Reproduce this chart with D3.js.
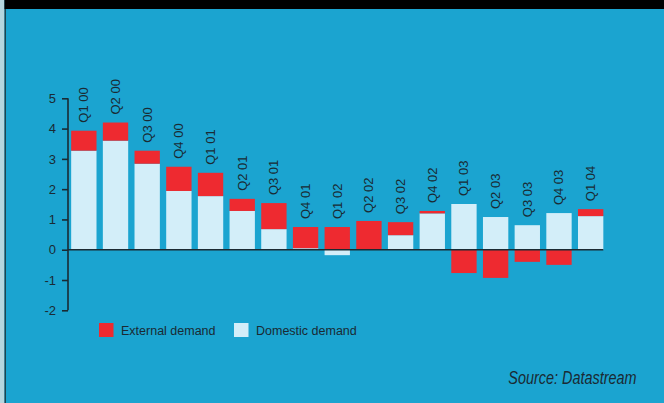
<!DOCTYPE html>
<html>
<head>
<meta charset="utf-8">
<script src="https://cdn.jsdelivr.net/npm/d3@7"></script>
<style>
  html, body { margin: 0; padding: 0; background: #1ba4d0; }
  svg { display: block; }
  text { font-family: "Liberation Sans", Arial, Helvetica, sans-serif; fill: #1a2a33; }
</style>
</head>
<body>
<svg id="chart" width="664" height="403"></svg>
<script>
// Contributions to GDP growth, percentage points
const quarters = ["Q1 00", "Q2 00", "Q3 00", "Q4 00", "Q1 01", "Q2 01", "Q3 01", "Q4 01",
                  "Q1 02", "Q2 02", "Q3 02", "Q4 02", "Q1 03", "Q2 03", "Q3 03", "Q4 03", "Q1 04"];
const domestic = [3.27, 3.60, 2.84, 1.94, 1.77, 1.28, 0.68, 0.05, -0.18, 0.00, 0.48, 1.20, 1.51, 1.08, 0.81, 1.21, 1.11];
const external = [0.66, 0.60, 0.43, 0.80, 0.77, 0.40, 0.86, 0.70, 0.75, 0.95, 0.43, 0.08, -0.77, -0.93, -0.40, -0.50, 0.23];
const yTicks = [-2, -1, 0, 1, 2, 3, 4, 5];
const seriesNames = ["External demand", "Domestic demand"];

const colors = { domestic: "#d3eef9", external: "#ee2a30" };
const ink = "#1a2a33";

const svg = d3.select("#chart");
const W = 664, H = 403;

// page frame: blue panel, black band on top, pale strip at the left edge
svg.append("rect").attr("width", W).attr("height", H).attr("fill", "#1ba4d0");
svg.append("rect").attr("x", 0).attr("y", 0).attr("width", 4.5).attr("height", H).attr("fill", "#b5d6df");
svg.append("rect").attr("x", 4.5).attr("y", 0).attr("width", 1.5).attr("height", H).attr("fill", "#1d4450");
svg.append("rect").attr("x", 4.5).attr("y", 0).attr("width", W - 4.5).attr("height", 9).attr("fill", "#000");

const rows = quarters.map((q, i) => ({ quarter: q, domestic: domestic[i], external: external[i] }));

const x = d3.scaleBand().domain(quarters).range([68, 606.5]).paddingInner(0.2).paddingOuter(0.1);
const y = d3.scaleLinear().domain([-2, 5]).range([310.3, 98.3]);

const stacked = d3.stack()
  .keys(["domestic", "external"])
  .offset(d3.stackOffsetDiverging)(rows);

// bars
svg.append("g").selectAll("g")
  .data(stacked)
  .join("g")
  .attr("fill", d => colors[d.key])
  .selectAll("rect")
  .data(d => d)
  .join("rect")
  .attr("x", d => x(d.data.quarter))
  .attr("width", x.bandwidth())
  .attr("y", d => y(Math.max(d[0], d[1])))
  .attr("height", d => Math.abs(y(d[0]) - y(d[1])));

// y axis (plain hyphen for negatives)
const yAxis = d3.axisLeft(y).tickValues(yTicks).tickFormat(d => String(d)).tickSize(6).tickPadding(6);
const gy = svg.append("g").attr("transform", "translate(68,0)").call(yAxis);
gy.select(".domain").attr("stroke", ink).attr("stroke-width", 1.6).attr("d", `M0,${y(5)}V${y(-2)}`);
gy.selectAll(".tick line").attr("stroke", ink).attr("stroke-width", 1.6);
gy.selectAll(".tick text").attr("fill", ink).attr("font-size", 13)
  .attr("font-family", "'Liberation Sans', Arial, sans-serif");

// zero line
svg.append("line")
  .attr("x1", 68).attr("x2", x(quarters[quarters.length - 1]) + x.bandwidth())
  .attr("y1", y(0)).attr("y2", y(0))
  .attr("stroke", ink).attr("stroke-width", 1.6);

// vertical quarter labels above each bar
svg.append("g").selectAll("text")
  .data(rows)
  .join("text")
  .attr("transform", d => {
    const top = Math.max(0, d.domestic) + Math.max(0, d.external);
    return `translate(${x(d.quarter) + x.bandwidth() / 2 + 4.5},${y(top) - 8}) rotate(-90)`;
  })
  .attr("font-size", 13)
  .text(d => d.quarter);

// legend
const legend = svg.append("g").attr("transform", "translate(99,323)");
const legendItems = [
  { name: seriesNames[0], color: colors.external, dx: 0 },
  { name: seriesNames[1], color: colors.domestic, dx: 135 }
];
const li = legend.selectAll("g").data(legendItems).join("g")
  .attr("transform", d => `translate(${d.dx},0)`);
li.append("rect").attr("width", 14.5).attr("height", 14).attr("fill", d => d.color);
li.append("text").attr("x", 22).attr("y", 11.5).attr("font-size", 12.5).text(d => d.name);

// source note, squeezed horizontally to a condensed italic
const source = svg.append("text")
  .attr("font-size", 19)
  .attr("font-style", "italic")
  .attr("fill", "#14303c")
  .text("Source: Datastream");
const natural = source.node().getComputedTextLength() || 168;
const sx = 128.4 / natural;
source.attr("transform", `translate(508.3,384) scale(${sx},1)`);
</script>
</body>
</html>
